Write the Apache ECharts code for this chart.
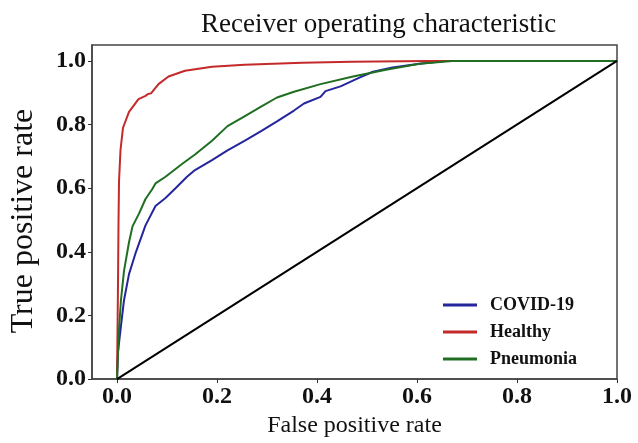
<!DOCTYPE html>
<html>
<head>
<meta charset="utf-8">
<script src="https://cdn.jsdelivr.net/npm/echarts@6/dist/echarts.min.js"></script>
<style>
  html, body { margin: 0; padding: 0; background: #fff; }
  #main { width: 638px; height: 443px; }
</style>
</head>
<body>
<div id="main"></div>
<script>
'use strict';

var tickValues = [0, 0.2, 0.4, 0.6, 0.8, 1.0];
var seriesNames = ['COVID-19', 'Healthy', 'Pneumonia'];

// COVID-19 curve
var covidFpr = [0, 0.002, 0.008, 0.014, 0.024, 0.038, 0.057, 0.077, 0.097, 0.117, 0.14, 0.156, 0.19, 0.221, 0.255, 0.289, 0.32, 0.354, 0.374, 0.407, 0.417, 0.447, 0.486, 0.512, 0.551, 0.605, 0.656, 1.0];
var covidTpr = [0, 0.086, 0.168, 0.248, 0.33, 0.40, 0.483, 0.544, 0.569, 0.60, 0.636, 0.657, 0.688, 0.719, 0.749, 0.78, 0.81, 0.844, 0.866, 0.887, 0.905, 0.92, 0.948, 0.966, 0.979, 0.991, 1.0, 1.0];

// Healthy curve
var healthyFpr = [0, 0.002, 0.003, 0.004, 0.007, 0.012, 0.024, 0.043, 0.057, 0.062, 0.068, 0.083, 0.103, 0.136, 0.19, 0.255, 0.37, 0.47, 0.62, 1.0];
var healthyTpr = [0, 0.30, 0.49, 0.62, 0.72, 0.79, 0.84, 0.88, 0.89, 0.896, 0.898, 0.927, 0.951, 0.969, 0.982, 0.988, 0.994, 0.997, 1.0, 1.0];

// Pneumonia curve
var pneuFpr = [0, 0.004, 0.008, 0.014, 0.024, 0.031, 0.044, 0.057, 0.07, 0.077, 0.097, 0.13, 0.156, 0.19, 0.221, 0.255, 0.289, 0.32, 0.354, 0.407, 0.472, 0.538, 0.605, 0.67, 1.0];
var pneuTpr = [0, 0.156, 0.25, 0.34, 0.43, 0.48, 0.52, 0.566, 0.596, 0.615, 0.636, 0.676, 0.706, 0.749, 0.795, 0.826, 0.857, 0.885, 0.903, 0.927, 0.951, 0.972, 0.991, 1.0, 1.0];

// chance line
var diagFpr = [0, 1];
var diagTpr = [0, 1];

var zip = function (xs, ys) {
    var res = [];
    for (var i = 0; i < xs.length; i++) {
        res.push([xs[i], ys[i]]);
    }
    return res;
};

var serif = '"Liberation Serif", "DejaVu Serif", serif';
var myChart = echarts.init(document.getElementById('main'));

var lineSeries = function (name, data, color) {
    return {
        name: name,
        type: 'line',
        data: data,
        showSymbol: false,
        symbol: 'none',
        smooth: false,
        lineStyle: { color: color, width: 2 },
        itemStyle: { color: color },
        animation: false
    };
};

var option = {
    backgroundColor: '#fff',
    animation: false,
    title: {
        text: 'Receiver operating characteristic',
        left: 196,
        top: 6,
        textStyle: {
            fontFamily: serif,
            fontSize: 27,
            fontWeight: 'normal',
            color: '#111'
        }
    },
    grid: {
        left: 87,
        right: 21,
        top: 45,
        bottom: 55,
        show: true,
        borderColor: '#444',
        borderWidth: 1.5,
        containLabel: false
    },
    legend: {
        orient: 'vertical',
        left: 438,
        top: 291,
        itemWidth: 34,
        itemHeight: 3,
        itemGap: 9,
        icon: 'rect',
        data: seriesNames,
        textStyle: {
            fontFamily: serif,
            fontSize: 18,
            fontWeight: 'bold',
            color: '#111',
            padding: [0, 0, 0, 8]
        }
    },
    xAxis: {
        type: 'value',
        min: -0.05,
        max: 1.0,
        name: 'False positive rate',
        nameLocation: 'middle',
        nameGap: 29,
        nameTextStyle: { fontFamily: serif, fontSize: 24, color: '#111' },
        axisLine: { show: true, onZero: false, lineStyle: { color: '#444', width: 1.5 } },
        axisTick: { show: true, length: 4, customValues: tickValues, lineStyle: { color: '#333' } },
        axisLabel: {
            customValues: tickValues,
            margin: 6,
            fontFamily: serif,
            fontSize: 24,
            fontWeight: 'bold',
            color: '#111',
            formatter: function (v) { return v.toFixed(1); }
        },
        splitLine: { show: false }
    },
    yAxis: {
        type: 'value',
        min: 0,
        max: 1.05,
        name: 'True positive rate',
        nameLocation: 'middle',
        nameGap: 52,
        nameTextStyle: { fontFamily: serif, fontSize: 32, color: '#111', padding: [0, 18, 0, 0] },
        axisLine: { show: true, onZero: false, lineStyle: { color: '#444', width: 1.5 } },
        axisTick: { show: true, length: 4, customValues: tickValues, lineStyle: { color: '#333' } },
        axisLabel: {
            customValues: tickValues,
            margin: 6,
            fontFamily: serif,
            fontSize: 24,
            fontWeight: 'bold',
            color: '#111',
            formatter: function (v) { return v.toFixed(1); }
        },
        splitLine: { show: false }
    },
    series: [
        lineSeries('COVID-19', zip(covidFpr, covidTpr), '#25259c'),
        lineSeries('Healthy', zip(healthyFpr, healthyTpr), '#c42a2a'),
        lineSeries('Pneumonia', zip(pneuFpr, pneuTpr), '#1f6e22'),
        lineSeries('chance', zip(diagFpr, diagTpr), '#000')
    ]
};

myChart.setOption(option);
</script>
</body>
</html>
